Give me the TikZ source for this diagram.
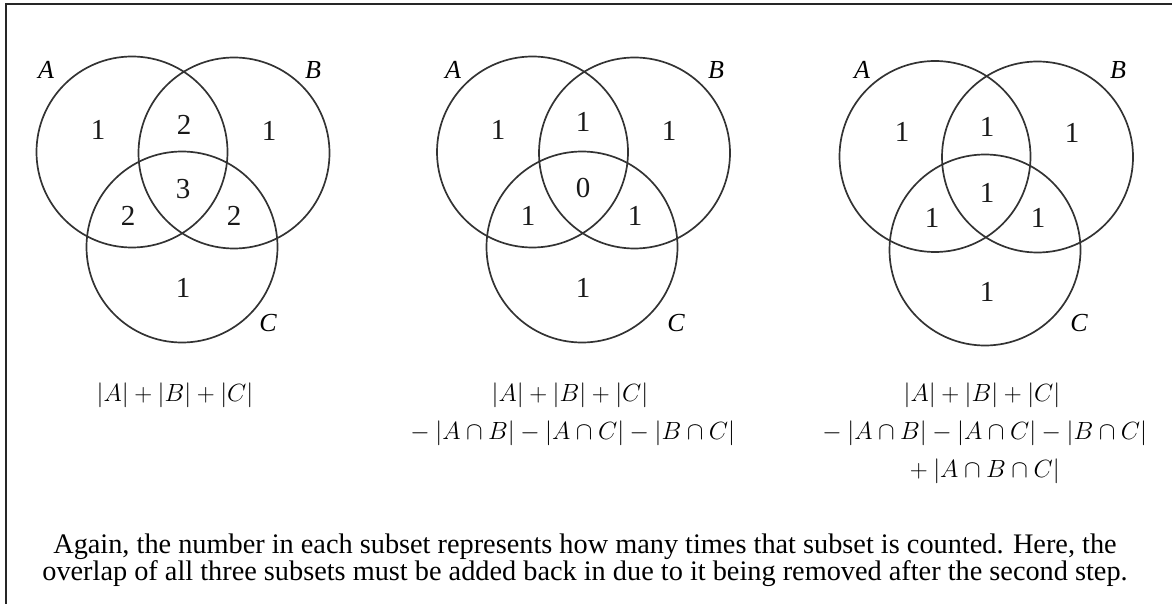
\documentclass[tikz,border=0pt]{standalone}
\usepackage[no-math]{fontspec}
\newfontfamily\capfont{Liberation Serif}
\begin{document}
\begin{tikzpicture}[x=1pt,y=-1pt,
  venn/.style={circle, draw=black!80, line width=1.7pt, minimum size=191pt, inner sep=0pt},
  num/.style={font=\capfont\fontsize{29}{29}\selectfont, text=black!90, inner sep=0pt},
  lab/.style={font=\capfont\itshape\fontsize{26}{26}\selectfont, inner sep=0pt},
  formula/.style={font=\fontsize{25.5}{38}\selectfont, align=center, inner sep=0pt},
  captext/.style={font=\capfont\fontsize{28.3}{25.5}\selectfont, align=center, inner sep=0pt}]
\useasboundingbox (0,0) rectangle (1172,604);
\draw[line width=2pt, black!85] (6,604) -- (6,4) -- (1172,4);

% Panel 1
\node[venn] (A1) at (132,152) {};
\node[venn] (B1) at (234,153) {};
\node[venn] (C1) at (182,247) {};
\node[lab] (lA1) at (46,70) {A};
\node[lab] (lB1) at (313,70) {B};
\node[lab] (lC1) at (268,323) {C};
\node[num] (a1) at (98,130) {1};
\node[num] (ab1) at (184,125) {2};
\node[num] (b1) at (269,131) {1};
\node[num] (abc1) at (183,189) {3};
\node[num] (ac1) at (128,216) {2};
\node[num] (bc1) at (234,216) {2};
\node[num] (c1) at (183,288) {1};
\node[formula, anchor=north] (f1) at (175,383) {$|A|+|B|+|C|$};

% Panel 2
\node[venn] (A2) at (532.5,152) {};
\node[venn] (B2) at (634.5,153) {};
\node[venn] (C2) at (582,247) {};
\node[lab] (lA2) at (453,70) {A};
\node[lab] (lB2) at (716,70) {B};
\node[lab] (lC2) at (676,323) {C};
\node[num] (a2) at (498,130) {1};
\node[num] (ab2) at (583,122) {1};
\node[num] (b2) at (669,131) {1};
\node[num] (abc2) at (583,188) {0};
\node[num] (ac2) at (528,216) {1};
\node[num] (bc2) at (635,216) {1};
\node[num] (c2) at (583,288) {1};
\node[formula, anchor=north] (f2) at (570,383) {$|A|+|B|+|C|$\\ ${}-|A\cap B|-|A\cap C|-|B\cap C|$};

% Panel 3
\node[venn] (A3) at (935,156.5) {};
\node[venn] (B3) at (1037.5,157) {};
\node[venn] (C3) at (985,250) {};
\node[lab] (lA3) at (862,70) {A};
\node[lab] (lB3) at (1118,70) {B};
\node[lab] (lC3) at (1079,323) {C};
\node[num] (a3) at (902,132) {1};
\node[num] (ab3) at (987,127) {1};
\node[num] (b3) at (1072,133) {1};
\node[num] (abc3) at (987,193) {1};
\node[num] (ac3) at (932,218) {1};
\node[num] (bc3) at (1038,218) {1};
\node[num] (c3) at (987,292) {1};
\node[formula, anchor=north] (f3) at (982,383) {$|A|+|B|+|C|$\\ ${}-|A\cap B|-|A\cap C|-|B\cap C|$\\ ${}+|A\cap B\cap C|$};

% Caption
\node[captext] (cap) at (585,560) {Again, the number in each subset represents how many times that subset is counted. Here, the\\ overlap of all three subsets must be added back in due to it being removed after the second step.};
\end{tikzpicture}
\end{document}
